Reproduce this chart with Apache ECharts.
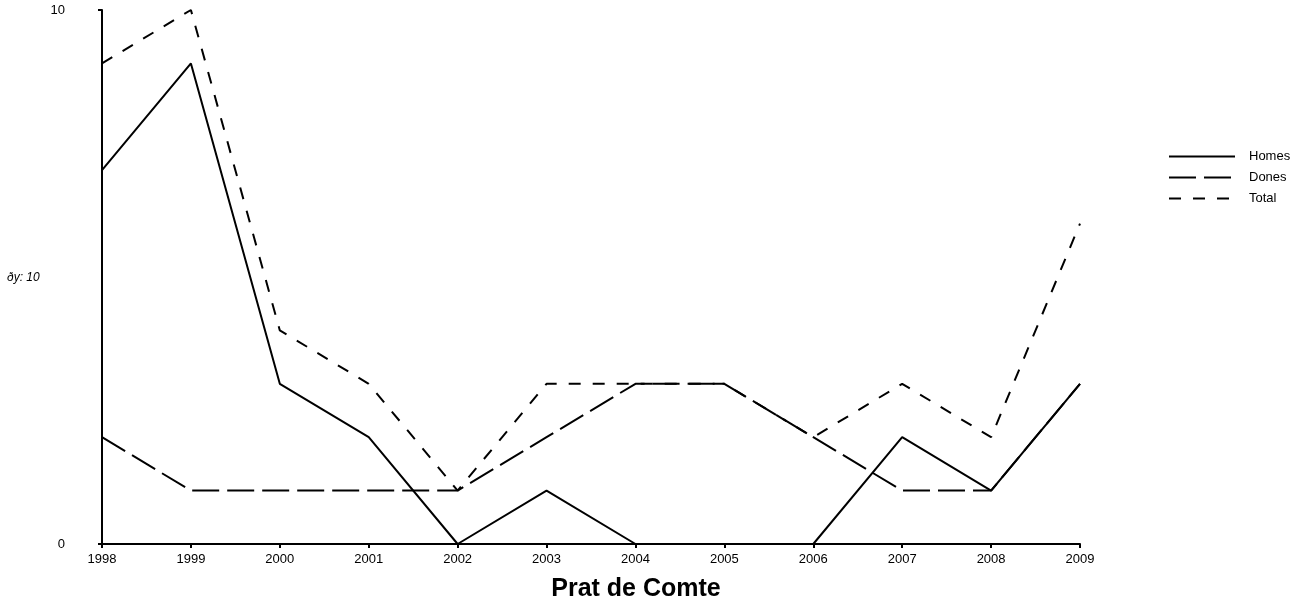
<!DOCTYPE html>
<html>
<head>
<meta charset="utf-8">
<title>Prat de Comte</title>
<script src="https://cdn.jsdelivr.net/npm/echarts@6/dist/echarts.min.js"></script>
<style>
  html, body { margin: 0; padding: 0; background: #fff; }
  #main { width: 1314px; height: 607px; }
</style>
</head>
<body>
<div id="main"></div>
<script>
// dades llegides del gràfic
const years = ['1998', '1999', '2000', '2001', '2002', '2003', '2004', '2005', '2006', '2007', '2008', '2009'];
const homes = [7, 9, 3, 2, 0, 1, 0, 0, 0, 2, 1, 3];
const dones = [2, 1, 1, 1, 1, 2, 3, 3, 2, 1, 1, 3];
const total = [9, 10, 4, 3, 1, 3, 3, 3, 2, 3, 2, 6];

const FONT = 'Liberation Sans, Arial, sans-serif';

var chart = echarts.init(document.getElementById('main'));

const lineSeries = (name, data, type) => ({
    name: name,
    type: 'line',
    data: data,
    symbol: 'none',
    showSymbol: false,
    animation: false,
    lineStyle: { color: '#000', width: 2, type: type },
    itemStyle: { color: '#000' }
});

var option = {
    backgroundColor: '#fff',
    animation: false,
    title: {
        text: 'Prat de Comte',
        left: 636,
        textAlign: 'center',
        top: 577,
        padding: 0,
        textStyle: { fontFamily: FONT, fontSize: 25, fontWeight: 'bold', color: '#000' }
    },
    graphic: [{
        type: 'text',
        left: 7,
        top: 272,
        style: { text: 'ðy: 10', font: 'italic 12px ' + FONT, fill: '#000' }
    }],
    legend: {
        orient: 'vertical',
        left: 1168,
        top: 150,
        padding: 0,
        itemWidth: 66,
        itemHeight: 14,
        itemGap: 8,
        itemStyle: { opacity: 0 },
        textStyle: { fontFamily: FONT, fontSize: 13, color: '#000', padding: [0, 0, 0, 9] },
        data: ['Homes', 'Dones', 'Total']
    },
    grid: { left: 102, right: 234, top: 10, bottom: 63 },
    xAxis: {
        type: 'category',
        data: years,
        boundaryGap: false,
        axisLine: { lineStyle: { color: '#000', width: 2 } },
        axisTick: { alignWithLabel: true, length: 4, lineStyle: { color: '#000', width: 2 } },
        axisLabel: { margin: 9, fontFamily: FONT, fontSize: 13, color: '#000' },
        splitLine: { show: false }
    },
    yAxis: {
        type: 'value',
        min: 0,
        max: 10,
        interval: 10,
        axisLine: { show: true, lineStyle: { color: '#000', width: 2 } },
        axisTick: { show: true, length: 4, lineStyle: { color: '#000', width: 2 } },
        axisLabel: { margin: 37, fontFamily: FONT, fontSize: 13, color: '#000' },
        splitLine: { show: false }
    },
    series: [
        lineSeries('Homes', homes, 'solid'),
        lineSeries('Dones', dones, [27, 8]),
        lineSeries('Total', total, [12, 12])
    ]
};

chart.setOption(option);
</script>
</body>
</html>
